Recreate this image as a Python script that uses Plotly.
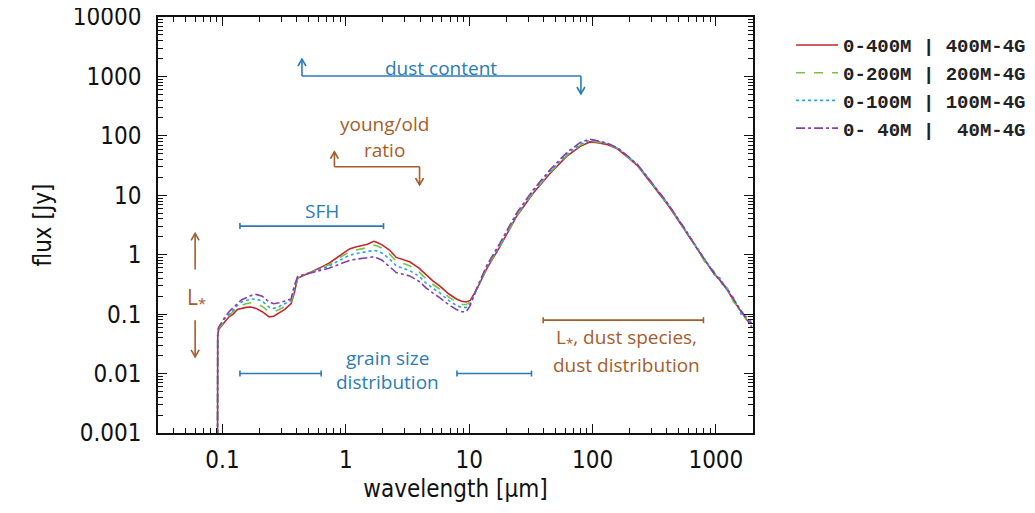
import math
import plotly.graph_objects as go

# ---------------- data ----------------
wavelength = [0.0910, 0.0915, 0.093, 0.097, 0.105, 0.113, 0.122, 0.132, 0.143, 0.155,
              0.17, 0.187, 0.21, 0.239, 0.26, 0.289, 0.32, 0.36, 0.38, 0.407,
              0.45, 0.506, 0.57, 0.645, 0.73, 0.834, 0.95, 1.07, 1.2, 1.36,
              1.5, 1.68, 1.8, 1.98, 2.26, 2.56, 2.9, 3.29, 3.9, 4.49,
              5.1, 5.76, 6.8, 7.87, 8.7, 9.48, 10.2, 11.4, 14, 17.7,
              24.2, 33, 45, 61.6, 79, 95, 110, 130, 160, 189,
              230, 275, 330, 400, 480, 581, 700, 845, 950, 1084,
              1250, 1390, 1600, 1786, 1960]

flux_400M = [1e-4, 0.045, 0.055, 0.062, 0.075, 0.09, 0.10, 0.12, 0.125, 0.13,
             0.132, 0.125, 0.11, 0.09, 0.092, 0.105, 0.12, 0.15, 0.22, 0.40,
             0.44, 0.49, 0.55, 0.63, 0.72, 0.88, 1.05, 1.25, 1.35, 1.45,
             1.5, 1.68, 1.6, 1.45, 1.2, 0.9, 0.82, 0.76, 0.60, 0.45,
             0.36, 0.30, 0.22, 0.18, 0.165, 0.16, 0.17, 0.25, 0.6, 1.35,
             4.4, 10.8, 23, 45, 66, 79, 77, 72, 60, 45,
             32, 20, 12.5, 7.3, 4.2, 2.3, 1.25, 0.70, 0.50, 0.37,
             0.25, 0.17, 0.11, 0.08, 0.07]

flux_200M = [1e-4, 0.045, 0.057, 0.065, 0.08, 0.095, 0.11, 0.13, 0.14, 0.15,
             0.155, 0.15, 0.135, 0.11, 0.11, 0.12, 0.135, 0.16, 0.24, 0.41,
             0.45, 0.49, 0.54, 0.61, 0.68, 0.82, 0.96, 1.12, 1.2, 1.28,
             1.32, 1.45, 1.40, 1.28, 1.03, 0.78, 0.71, 0.65, 0.52, 0.39,
             0.315, 0.265, 0.195, 0.16, 0.145, 0.145, 0.16, 0.25, 0.62, 1.4,
             4.5, 11.2, 24, 47, 69, 82, 79, 73, 61, 46,
             32.5, 20.5, 12.8, 7.5, 4.3, 2.4, 1.3, 0.66, 0.55, 0.34,
             0.27, 0.16, 0.12, 0.075, 0.075]

flux_100M = [1e-4, 0.045, 0.058, 0.068, 0.085, 0.10, 0.12, 0.14, 0.16, 0.17,
             0.18, 0.18, 0.165, 0.13, 0.125, 0.135, 0.15, 0.17, 0.26, 0.42,
             0.45, 0.49, 0.53, 0.58, 0.64, 0.75, 0.86, 0.98, 1.04, 1.10,
             1.13, 1.18, 1.15, 1.06, 0.85, 0.65, 0.59, 0.54, 0.44, 0.33,
             0.27, 0.23, 0.17, 0.14, 0.13, 0.13, 0.15, 0.25, 0.64, 1.45,
             4.7, 11.6, 25, 49, 72, 85, 81, 74, 62, 47,
             33, 21, 13, 7.6, 4.4, 2.35, 1.35, 0.75, 0.48, 0.40,
             0.24, 0.19, 0.10, 0.09, 0.072]

flux_40M = [1e-4, 0.045, 0.06, 0.07, 0.09, 0.11, 0.13, 0.15, 0.175, 0.19,
            0.205, 0.215, 0.20, 0.16, 0.15, 0.155, 0.165, 0.18, 0.29, 0.43,
            0.46, 0.49, 0.51, 0.55, 0.59, 0.66, 0.73, 0.80, 0.84, 0.87,
            0.88, 0.92, 0.88, 0.80, 0.63, 0.50, 0.47, 0.44, 0.36, 0.275,
            0.225, 0.19, 0.145, 0.12, 0.11, 0.11, 0.14, 0.26, 0.68, 1.55,
            5.0, 12.3, 26.5, 52, 77, 88, 83, 76, 63, 47.5,
            33.5, 21, 13, 7.7, 4.4, 2.45, 1.28, 0.72, 0.52, 0.36,
            0.26, 0.18, 0.115, 0.085, 0.06]

series_names = ["0-400M\u00a0|\u00a0400M-4G", "0-200M\u00a0|\u00a0200M-4G",
                "0-100M\u00a0|\u00a0100M-4G", "0-\u00a040M\u00a0|\u00a0\u00a040M-4G"]
series_values = [flux_400M, flux_200M, flux_100M, flux_40M]
series_colors = ["#c0282d", "#7cc142", "#29a3dc", "#8a3fa6"]
series_dash = ["solid", "dash", "dot", "dashdot"]

y_ticks = [0.001, 0.01, 0.1, 1, 10, 100, 1000, 10000]
y_ticklabels = ["0.001", "0.01", "0.1", "1", "10", "100", "1000", "10000"]
x_ticks = [0.1, 1, 10, 100, 1000]
x_ticklabels = ["0.1", "1", "10", "100", "1000"]
x_minor = [m * 10.0 ** e for e in range(-2, 4) for m in range(2, 10)]
y_minor = [m * 10.0 ** e for e in range(-3, 4) for m in range(2, 10)]

BLUE = "#2b7bb9"
BROWN = "#a65d2b"

fig = go.Figure()
for name, vals, col, dash in zip(series_names, series_values, series_colors, series_dash):
    fig.add_trace(go.Scatter(x=wavelength, y=vals, mode="lines", name=name,
                             line=dict(color=col, width=1.6, dash=dash)))

shapes = []
annotations = []

def seg(x0, y0, x1, y1, color):
    shapes.append(dict(type="line", xref="x", yref="y", x0=x0, y0=y0, x1=x1, y1=y1,
                       line=dict(color=color, width=1.6)))

def head(x, y, color, up=True):
    p = "M-4,-7 L0,0 L4,-7" if up else "M-4,7 L0,0 L4,7"
    shapes.append(dict(type="path", xref="x", yref="y", xsizemode="pixel", ysizemode="pixel",
                       xanchor=x, yanchor=y, path=p, line=dict(color=color, width=1.6)))

def cap(x, y, color):
    shapes.append(dict(type="path", xref="x", yref="y", xsizemode="pixel", ysizemode="pixel",
                       xanchor=x, yanchor=y, path="M0,-3 L0,3", line=dict(color=color, width=1.6)))

def text(x, y, t, color, size=19):
    annotations.append(dict(x=math.log10(x), y=math.log10(y), xref="x", yref="y", text=t,
                            showarrow=False, font=dict(family="Open Sans", size=size, color=color)))

# dust content
seg(0.441, 1963, 0.441, 1016, BLUE); seg(0.441, 1016, 80.5, 1016, BLUE); seg(80.5, 1016, 80.5, 506, BLUE)
head(0.441, 1963, BLUE, True); head(80.5, 506, BLUE, False)
text(5.9, 1380, "dust content", BLUE)

# young/old ratio
seg(0.808, 54, 0.808, 30.2, BROWN); seg(0.808, 30.2, 3.96, 30.2, BROWN); seg(3.96, 30.2, 3.96, 14.9, BROWN)
head(0.808, 54, BROWN, True); head(3.96, 14.9, BROWN, False)
text(2.05, 160, "young/old", BROWN)
text(2.05, 57, "ratio", BROWN)

# SFH
seg(0.1385, 3.03, 2.02, 3.03, BLUE); cap(0.1385, 3.03, BLUE); cap(2.02, 3.03, BLUE)
text(0.64, 5.5, "SFH", BLUE)

# L*
seg(0.060, 0.565, 0.060, 2.29, BROWN); head(0.060, 2.29, BROWN, True)
seg(0.060, 0.0792, 0.060, 0.0191, BROWN); head(0.060, 0.0191, BROWN, False)
text(0.061, 0.184, "L<sub>*</sub>", BROWN, size=21)

# grain size distribution
seg(0.1385, 0.01, 0.631, 0.01, BLUE); cap(0.1385, 0.01, BLUE); cap(0.631, 0.01, BLUE)
seg(7.96, 0.01, 32, 0.01, BLUE); cap(7.96, 0.01, BLUE); cap(32, 0.01, BLUE)
text(2.19, 0.018, "grain size", BLUE)
text(2.19, 0.0072, "distribution", BLUE)

# L*, dust species, dust distribution
seg(39.8, 0.0792, 793, 0.0792, BROWN); cap(39.8, 0.0792, BROWN); cap(793, 0.0792, BROWN)
text(189, 0.039, "L<sub>*</sub>, dust species,", BROWN)
text(189, 0.0138, "dust distribution", BROWN)

axis_font = dict(family="DejaVu Sans Condensed, DejaVu Sans", size=24, color="#111")

common_axis = dict(
    type="log", ticks="inside", ticklen=9, tickwidth=1.4, tickcolor="#111",
    showline=True, linecolor="#111", linewidth=1.5, mirror="allticks",
    showgrid=False, zeroline=False, tickfont=axis_font, automargin=False,
    ticklabeloverflow="allow",
)

fig.update_layout(
    template="none",
    width=1035, height=513,
    margin=dict(l=150, r=290, t=9, b=88, autoexpand=False),
    paper_bgcolor="white", plot_bgcolor="white",
    shapes=shapes, annotations=annotations,
    legend=dict(x=1.064, y=0.978, xanchor="left", yanchor="top",
                font=dict(family="Liberation Mono", size=19, color="#222", weight="bold"),
                bgcolor="rgba(0,0,0,0)", tracegroupgap=0, itemwidth=42),
    xaxis=dict(common_axis, range=[math.log10(0.03), math.log10(2000)],
               tickmode="array", tickvals=x_ticks, ticktext=x_ticklabels, ticklabelstandoff=4,
               minor=dict(tickmode="array", tickvals=x_minor, ticks="inside", ticklen=5,
                          tickwidth=1, tickcolor="#111", showgrid=False),
               title=dict(text="wavelength [µm]", font=axis_font, standoff=8)),
    yaxis=dict(common_axis, range=[-3, 4],
               tickmode="array", tickvals=y_ticks, ticktext=y_ticklabels, ticklabelstandoff=10,
               minor=dict(tickmode="array", tickvals=y_minor, ticks="inside", ticklen=5,
                          tickwidth=1, tickcolor="#111", showgrid=False),
               title=dict(text="flux [Jy]", font=axis_font, standoff=14)),
)

fig.write_html("out.html")
